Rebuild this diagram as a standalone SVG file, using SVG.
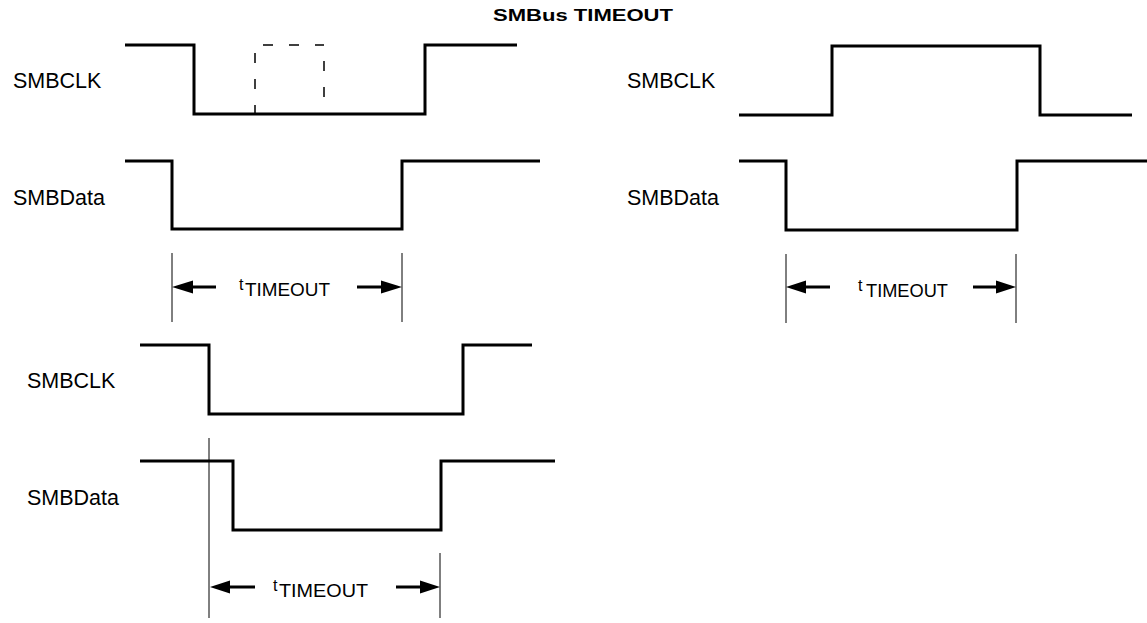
<svg xmlns="http://www.w3.org/2000/svg" width="1147" height="623" viewBox="0 0 1147 623">
<style>
.wave{fill:none;stroke:#000;stroke-width:3;stroke-linejoin:miter;stroke-linecap:butt}
.dash{fill:none;stroke:#000;stroke-width:1.5;stroke-dasharray:10 16}
.dim{fill:none;stroke:#000;stroke-width:1}
.arr{fill:none;stroke:#000;stroke-width:3}
.head{fill:#000}
.lbl{font-family:"Liberation Sans",Arial,sans-serif;font-size:21.5px;fill:#000}
.t{font-family:"Liberation Sans",Arial,sans-serif;font-size:16px;fill:#000}
.tt{font-family:"Liberation Sans",Arial,sans-serif;font-size:18.5px;fill:#000}
.title{font-family:"Liberation Sans",Arial,sans-serif;font-size:17px;font-weight:bold;fill:#000}
</style>
<rect width="1147" height="623" fill="#fff"/>
<text class="title" x="493" y="21" textLength="180" lengthAdjust="spacingAndGlyphs">SMBus TIMEOUT</text>

<g id="panel1">
<text class="lbl" x="13" y="88">SMBCLK</text>
<text class="lbl" x="13" y="205">SMBData</text>
<path class="wave" d="M125 45 H194 V114 H425 V45 H517"/>
<path class="dash" d="M255 53 V114"/>
<path class="dash" d="M263 45 H324"/>
<path class="dash" d="M324 61 V114"/>
<path class="wave" d="M125 161 H172 V229 H402 V161 H540"/>
</g>

<g id="panel2">
<text class="lbl" x="627" y="88">SMBCLK</text>
<text class="lbl" x="627" y="205">SMBData</text>
<path class="wave" d="M739 115 H832 V46 H1040 V115 H1132"/>
<path class="wave" d="M739 161 H786 V230 H1017 V161 H1147"/>
</g>

<g id="panel3">
<text class="lbl" x="27" y="388">SMBCLK</text>
<text class="lbl" x="27" y="505">SMBData</text>
<path class="wave" d="M140 345 H209 V414 H463 V345 H532"/>
<path class="wave" d="M140 461 H233 V530 H441 V461 H555"/>
</g>

<g id="connectors">
<path class="dim" d="M172 253 V322 M402 253 V322"/>
<path class="arr" d="M190 287 H216 M357 287 H385"/>
<polygon class="head" points="172,287 193,280.5 193,293.5"/>
<polygon class="head" points="402,287 381,280.5 381,293.5"/>

<path class="dim" d="M786 254 V323 M1016 254 V323"/>
<path class="arr" d="M804 287 H830 M973 287 H999"/>
<polygon class="head" points="786,287 806,280.5 806,293.5"/>
<polygon class="head" points="1016,287 996,280.5 996,293.5"/>

<path class="dim" d="M209 438 V618 M440 553 V618"/>
<path class="arr" d="M228 587 H255 M396 587 H423"/>
<polygon class="head" points="210,587 230,580.5 230,593.5"/>
<polygon class="head" points="440,587 420,580.5 420,593.5"/>
</g>

<g id="labels">
<text class="t" x="239" y="290">t</text><text class="tt" x="245" y="296" textLength="85" lengthAdjust="spacingAndGlyphs">TIMEOUT</text>
<text class="t" x="858" y="291">t</text><text class="tt" x="866" y="297" textLength="82" lengthAdjust="spacingAndGlyphs">TIMEOUT</text>
<text class="t" x="273" y="591">t</text><text class="tt" x="279" y="597" textLength="89" lengthAdjust="spacingAndGlyphs">TIMEOUT</text>
</g>
</svg>
